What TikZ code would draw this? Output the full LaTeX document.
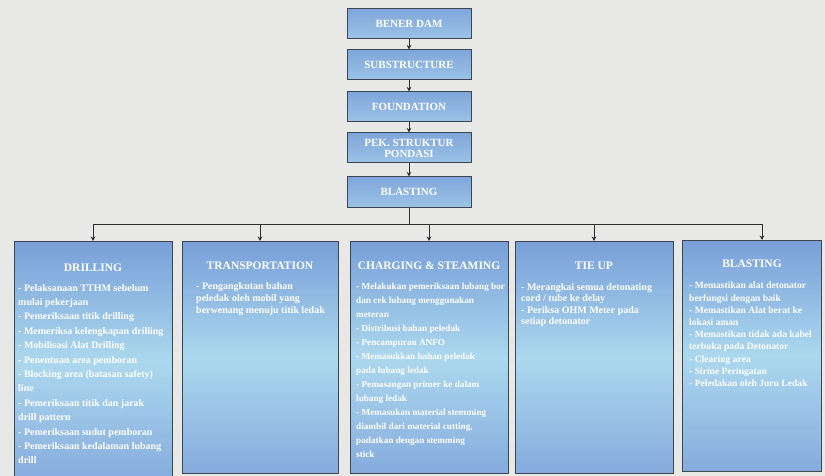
\documentclass[tikz,border=0pt]{standalone}
\usepackage{fontspec}
\setmainfont{Liberation Serif}
\usetikzlibrary{arrows.meta}
\definecolor{paper}{HTML}{E8E8E6}
\definecolor{boxline}{HTML}{3E4650}
\definecolor{linec}{HTML}{2E2E30}
\definecolor{ttop}{HTML}{7FA6DA}
\definecolor{tbot}{HTML}{9CC3E6}
\definecolor{bbtop}{HTML}{789FD8}
\definecolor{bbmid}{HTML}{ACD8EE}
\definecolor{bbbot}{HTML}{86ABDD}
\begin{document}
\begin{tikzpicture}[x=1pt,y=-1pt,
  topbox/.style={draw=boxline, line width=1pt, top color=ttop, bottom color=tbot,
    minimum width=124pt, minimum height=30pt, inner sep=1pt, text=white, align=center,
    font=\bfseries\fontsize{11}{11}\selectfont},
  bigbox/.style={draw=boxline, line width=1pt, top color=bbtop, bottom color=bbbot, middle color=bbmid,
    minimum height=232pt, anchor=north, inner sep=0pt},
  ttl/.style={font=\bfseries\fontsize{11.5}{12}\selectfont, text=white, anchor=base, inner sep=0pt},
  body/.style={font=\bfseries\fontsize{10}{12.2}\selectfont, text=white, align=left, anchor=north west, inner sep=0pt},
  loose/.style={font=\bfseries\fontsize{10}{14.4}\selectfont},
  conn/.style={line width=0.9pt, draw=linec},
  arr/.style={conn, -{Stealth[length=4.5pt,width=4.5pt]}}]
\fill[paper] (0,0) rectangle (825,476);
\useasboundingbox (0,0) rectangle (825,476);

% top chain
\node[topbox] (bener) at (409,24) {BENER DAM};
\node[topbox] (sub) at (409,65) {SUBSTRUCTURE};
\node[topbox] (found) at (409,107) {FOUNDATION};
\node[topbox] (pek) at (409,148) {PEK. STRUKTUR\\PONDASI};
\node[topbox] (blast) at (409,192) {BLASTING};
\draw[arr] (bener) -- (sub);
\draw[arr] (sub) -- (found);
\draw[arr] (found) -- (pek);
\draw[arr] (pek) -- (blast);

% bottom boxes
\node[bigbox, minimum width=158pt, minimum height=240pt] (drill) at (93,241) {};
\node[bigbox, minimum width=156pt] (trans) at (260,241) {};
\node[bigbox, minimum width=158pt] (charg) at (429,241) {};
\node[bigbox, minimum width=158pt] (tie) at (594,241) {};
\node[bigbox, minimum width=139pt, minimum height=231pt] (blst) at (752,240) {};

\coordinate (hub) at (409,224);
\draw[conn] (blast.south) -- (hub);
\draw[arr] (hub) -| (drill.north);
\draw[arr] (hub) -| (trans.north);
\draw[arr] (hub) -- (hub -| charg.north) -- (charg.north);
\draw[arr] (hub) -| (tie.north);
\draw[arr] (hub) -| ([xshift=10pt]blst.north);

% titles
\node[ttl] (drillT) at (93,271) {DRILLING};
\node[ttl] (transT) at (260,269) {TRANSPORTATION};
\node[ttl] (chargT) at (429,269) {CHARGING \& STEAMING};
\node[ttl] (tieT) at (594,269) {TIE UP};
\node[ttl] (blstT) at (752,267) {BLASTING};

% bodies
\node[body, loose] (drillB) at (18,284) {- Pelaksanaan TTHM sebelum\\
mulai pekerjaan\\
- Pemeriksaan titik drilling\\
- Memeriksa kelengkapan drilling\\
- Mobilisasi Alat Drilling\\
- Penentuan area pemboran\\
- Blocking area (batasan safety)\\
line\\
- Pemeriksaan titik dan jarak\\
drill pattern\\
- Pemeriksaan sudut pemboran\\
- Pemeriksaan kedalaman lubang\\
drill};

\node[body] (transB) at (196,282) {- Pengangkutan bahan\\
peledak oleh mobil yang\\
berwenang menuju titik ledak};

\node[body, font=\bfseries\fontsize{9.2}{14}\selectfont] (chargB) at (356,283) {- Melakukan pemeriksaan lubang bor\\
dan cek lubang menggunakan\\
meteran\\
- Distribusi bahan peledak\\
- Pencampuran ANFO\\
- Memasukkan bahan peledak\\
pada lubang ledak\\
- Pemasangan primer ke dalam\\
lubang ledak\\
- Memasukan material stemming\\
diambil dari material cutting,\\
padatkan dengan stemming\\
stick};

\node[body, font=\bfseries\fontsize{10}{11.5}\selectfont] (tieB) at (521,283) {- Merangkai semua detonating\\
cord / tube ke delay\\
- Periksa OHM Meter pada\\
setiap detonator};

\node[body, font=\bfseries\fontsize{9.6}{12.2}\selectfont] (blstB) at (689,282) {- Memastikan alat detonator\\
berfungsi dengan baik\\
- Memastikan Alat berat ke\\
lokasi aman\\
- Memastikan tidak ada kabel\\
terbuka pada Detonator\\
- Clearing area\\
- Sirine Peringatan\\
- Peledakan oleh Juru Ledak};
\end{tikzpicture}
\end{document}
